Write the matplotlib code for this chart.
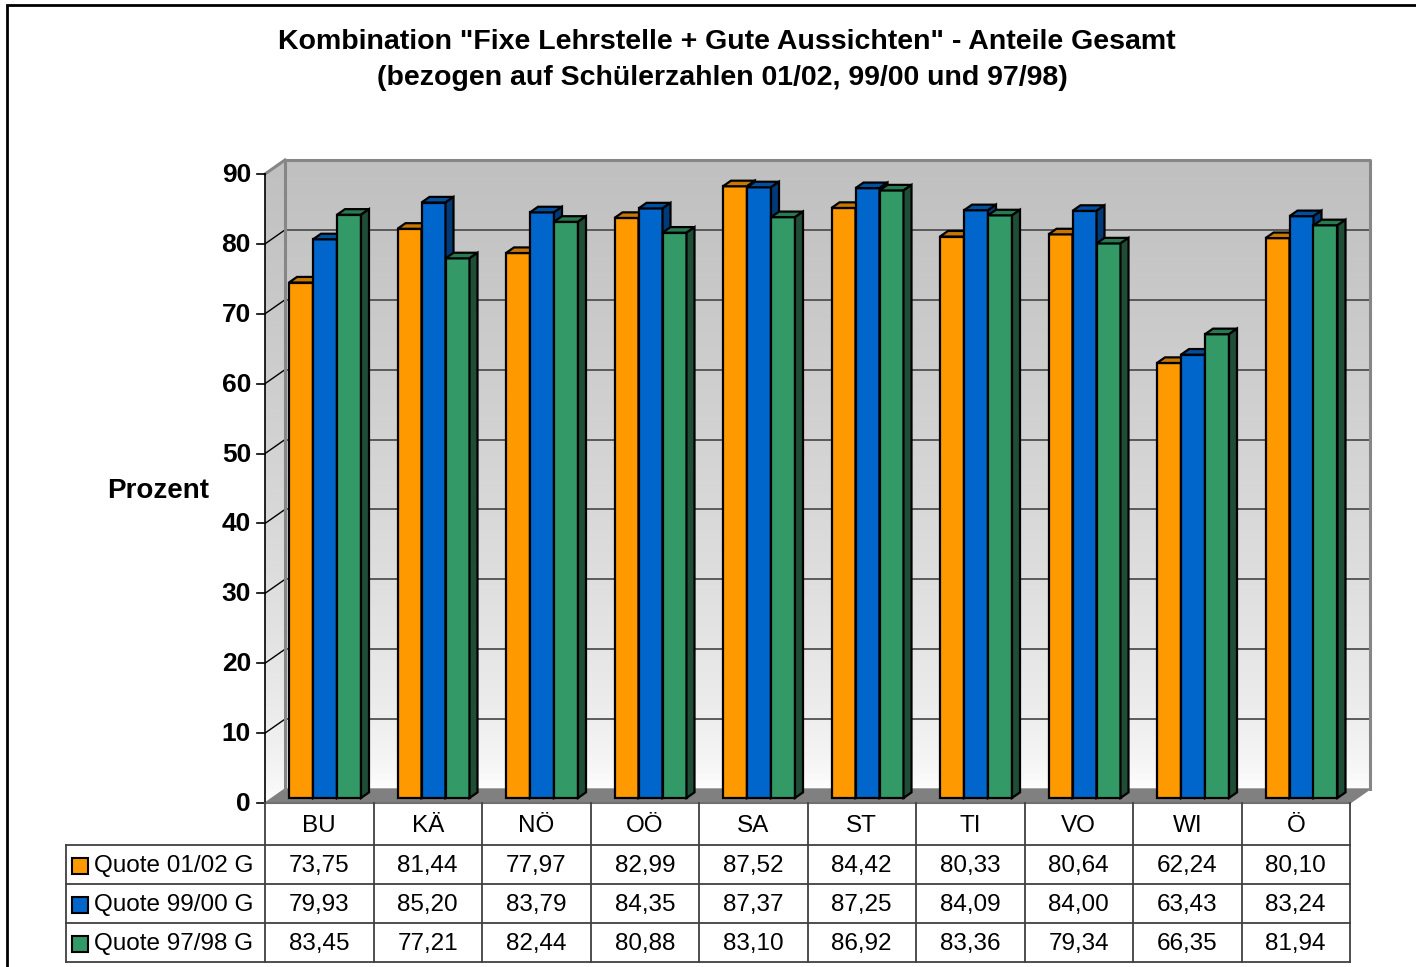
import numpy as np
import matplotlib.pyplot as plt
import matplotlib.transforms as mtransforms
from matplotlib.patches import Polygon, Rectangle

plt.rcParams['font.family'] = ['Liberation Sans', 'DejaVu Sans']

# data
regions = ['BU', 'KÄ', 'NÖ', 'OÖ', 'SA', 'ST', 'TI', 'VO', 'WI', 'Ö']
series_names = ['Quote 01/02 G', 'Quote 99/00 G', 'Quote 97/98 G']
quote_0102 = [73.75, 81.44, 77.97, 82.99, 87.52, 84.42, 80.33, 80.64, 62.24, 80.10]
quote_9900 = [79.93, 85.20, 83.79, 84.35, 87.37, 87.25, 84.09, 84.00, 63.43, 83.24]
quote_9798 = [83.45, 77.21, 82.44, 80.88, 83.10, 86.92, 83.36, 79.34, 66.35, 81.94]
yticks = [0, 10, 20, 30, 40, 50, 60, 70, 80, 90]

series = [quote_0102, quote_9900, quote_9798]
front_colors = ['#ff9900', '#0066cc', '#339966']
top_colors = ['#c87800', '#0050a0', '#287a50']
side_colors = ['#8f5a00', '#003a78', '#1f4d36']

W, H = 1416, 967
fig = plt.figure(figsize=(W / 100, H / 100), dpi=100)


def fx(px):
    return px / W


def fy(py):
    return 1 - py / H


# geometry in pixels of the 3D box
x_front0, x_front1 = 265, 1350
y_floor, y_top = 803, 174
depth_px = (20, 14)
col_px = (x_front1 - x_front0) / len(regions)
unit_px = (y_floor - y_top) / 90.0
dx = depth_px[0] / col_px
dy = depth_px[1] / unit_px

ax = fig.add_axes([fx(x_front0), fy(y_floor),
                   (x_front1 + depth_px[0] - x_front0) / W,
                   (y_floor - y_top + depth_px[1]) / H])
ax.set_xlim(0, len(regions) + dx)
ax.set_ylim(0, 90 + dy)
ax.axis('off')

# back wall gradient
t = np.linspace(0, 1, 256)[:, None]
shade = 1 - (1 - 0.753) * t ** 0.6
ax.imshow(np.dstack([shade, shade, shade]), extent=(dx, len(regions) + dx, dy, 90 + dy),
          origin='lower', aspect='auto', zorder=0, interpolation='bilinear')

# side wall gradient
side = Polygon([(0, 0), (dx, dy), (dx, 90 + dy), (0, 90)], closed=True,
               facecolor='none', edgecolor='none')
ax.add_patch(side)
im = ax.imshow(np.dstack([shade, shade, shade]), extent=(0, dx, 0, 90 + dy),
               origin='lower', aspect='auto', zorder=0, interpolation='bilinear')
im.set_clip_path(side)

# floor
ax.add_patch(Polygon([(0, 0), (len(regions), 0), (len(regions) + dx, dy), (dx, dy)],
                     closed=True, facecolor='#808080', edgecolor='#808080', lw=1, zorder=1))

# grid lines
for v in yticks[1:-1]:
    ax.plot([dx, len(regions) + dx], [v + dy, v + dy], color='#505050', lw=1.3, zorder=1)
    ax.plot([0, dx], [v, v + dy], color='black', lw=1.0, zorder=1)

# wall outlines
wall_col = '#868686'
ax.plot([dx, dx, len(regions) + dx, len(regions) + dx], [dy, 90 + dy, 90 + dy, dy],
        color=wall_col, lw=2.2, zorder=1, clip_on=False)
ax.plot([0, dx], [90, 90 + dy], color=wall_col, lw=2.2, zorder=1, clip_on=False)

# y axis
ax.plot([0, 0], [0, 90], color='black', lw=1.2, zorder=2, clip_on=False)
tick_len = 8 / col_px
for v in yticks:
    ax.plot([-tick_len, 0], [v, v], color='black', lw=1.2, zorder=2, clip_on=False)
    ax.text(-14 / col_px, v - 0.15, str(v), ha='right', va='center', fontsize=19,
            fontweight='bold', clip_on=False)

ax.text((158 - x_front0) / col_px, (y_floor - 491) / unit_px, 'Prozent', ha='center',
        va='center', fontsize=20, fontweight='bold')

# bars
z0, z1 = 0.36, 0.76
bw = 24 / col_px
ddx, ddy = (z1 - z0) * dx, (z1 - z0) * dy
for c in range(len(regions)):
    for i, vals in enumerate(series):
        v = vals[c]
        x0 = c + (24 - depth_px[0] * z0) / col_px + i * bw + z0 * dx
        y0 = z0 * dy
        kw = dict(edgecolor='black', lw=1.6, joinstyle='miter', zorder=3)
        ax.add_patch(Rectangle((x0, y0), bw, v, facecolor=front_colors[i], **kw))
        ax.add_patch(Polygon([(x0, y0 + v), (x0 + bw, y0 + v), (x0 + bw + ddx, y0 + v + ddy),
                              (x0 + ddx, y0 + v + ddy)], closed=True,
                             facecolor=top_colors[i], **kw))
        ax.add_patch(Polygon([(x0 + bw, y0), (x0 + bw + ddx, y0 + ddy),
                              (x0 + bw + ddx, y0 + v + ddy), (x0 + bw, y0 + v)], closed=True,
                             facecolor=side_colors[i], **kw))

# data table
trans = mtransforms.blended_transform_factory(ax.transData, fig.transFigure)
row_y = [803, 845, 884, 923, 962]
x_left = (66 - x_front0) / col_px
line_col = '#404040'
n = len(regions)
ax.plot([0, n], [fy(803)] * 2, color='#707070', lw=1.5, transform=trans, clip_on=False)
for yy in row_y[1:]:
    ax.plot([x_left, n], [fy(yy)] * 2, color=line_col, lw=1.3, transform=trans, clip_on=False)
for c in range(n + 1):
    ax.plot([c, c], [fy(803), fy(962)], color=line_col, lw=1.3, transform=trans, clip_on=False)
ax.plot([x_left, x_left], [fy(845), fy(962)], color=line_col, lw=1.3, transform=trans,
        clip_on=False)

for c, name in enumerate(regions):
    ax.text(c + 0.5, fy((row_y[0] + row_y[1]) / 2 + 2), name, ha='center', va='center',
            fontsize=17.5, transform=trans)
for i, vals in enumerate(series):
    yc = fy((row_y[i + 1] + row_y[i + 2]) / 2 + 1.5)
    for c, v in enumerate(vals):
        ax.text(c + 0.5, yc, f'{v:.2f}'.replace('.', ','), ha='center', va='center',
                fontsize=17.5, transform=trans)
    fig.add_artist(Rectangle((fx(72), yc - 8 / H), 16 / W, 16 / H, transform=fig.transFigure,
                             facecolor=front_colors[i], edgecolor='black', lw=1.5))
    fig.text(fx(94), yc, series_names[i], ha='left', va='center', fontsize=17.5)

# title
fig.text(fx(727), fy(42), 'Kombination "Fixe Lehrstelle + Gute Aussichten" - Anteile Gesamt',
         ha='center', va='center', fontsize=20.5, fontweight='bold')
fig.text(fx(722), fy(78), '(bezogen auf Schülerzahlen 01/02, 99/00 und 97/98)',
         ha='center', va='center', fontsize=20.5, fontweight='bold')

# outer frame
fig.add_artist(Rectangle((fx(7), fy(975)), 1.2, (975 - 5) / H, transform=fig.transFigure,
                         fill=False, edgecolor='black', lw=2))

fig.savefig('out.png', dpi=100)
